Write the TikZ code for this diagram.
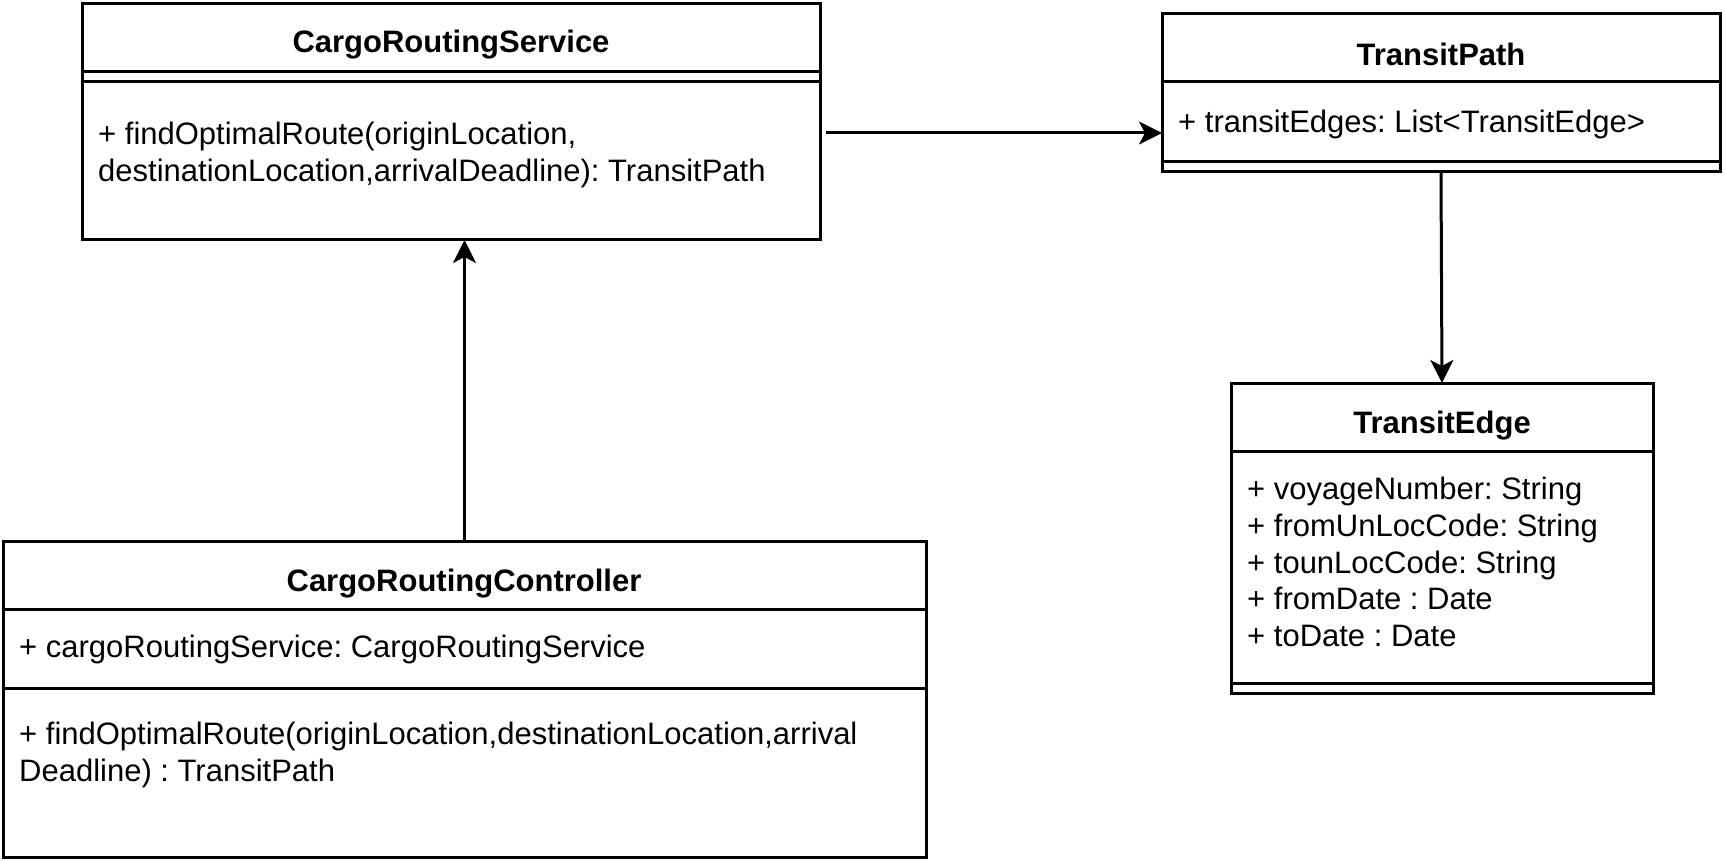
\documentclass[tikz,border=0pt]{standalone}
\usepackage{fontspec}
\setmainfont{Liberation Sans}
\usetikzlibrary{arrows.meta}
\begin{document}
\frenchspacing
\begin{tikzpicture}[x=1pt,y=1pt,
  boxline/.style={line width=3pt, draw=black},
  umlbox/.style={boxline, rectangle, inner sep=0pt, outer sep=0pt, anchor=north west},
  title/.style={anchor=base, inner sep=0pt, font=\fontsize{31}{37}\selectfont\bfseries},
  member/.style={anchor=base west, inner sep=0pt, font=\fontsize{31}{37}\selectfont},
  conn/.style={line width=3pt, -{Stealth[length=23pt,width=23pt,inset=6pt]}}
]
\useasboundingbox (0,0) rectangle (1725,-861);

% CargoRoutingService
\node[umlbox, minimum width=738pt, minimum height=236pt] (svc) at (82,-4) {};
\node[title] (svct) at (451,-53) {CargoRoutingService};
\draw[boxline] (svc.west |- 0,-72) -- (svc.east |- 0,-72);
\draw[boxline] (svc.west |- 0,-82) -- (svc.east |- 0,-82);
\node[member] (svcm1) at (98,-145) {+ findOptimalRoute(originLocation,};
\node[member] (svcm2) at (98,-182) {destinationLocation,arrivalDeadline): TransitPath};

% TransitPath
\node[umlbox, minimum width=558pt, minimum height=158pt] (tp) at (1162,-14) {};
\node[title] (tpt) at (1441,-66) {TransitPath};
\draw[boxline] (tp.west |- 0,-82) -- (tp.east |- 0,-82);
\node[member] (tpa1) at (1178,-133) {+ transitEdges: List<TransitEdge>};
\draw[boxline] (tp.west |- 0,-162) -- (tp.east |- 0,-162);

% TransitEdge
\node[umlbox, minimum width=422pt, minimum height=310pt] (te) at (1231,-383) {};
\node[title] (tet) at (1442,-433) {TransitEdge};
\draw[boxline] (te.west |- 0,-451) -- (te.east |- 0,-451);
\node[member] (tea1) at (1247,-499) {+ voyageNumber: String};
\node[member] (tea2) at (1247,-536) {+ fromUnLocCode: String};
\node[member] (tea3) at (1247,-573) {+ tounLocCode: String};
\node[member] (tea4) at (1247,-609) {+ fromDate : Date};
\node[member] (tea5) at (1247,-646) {+ toDate : Date};
\draw[boxline] (te.west |- 0,-683) -- (te.east |- 0,-683);

% CargoRoutingController
\node[umlbox, minimum width=923pt, minimum height=316pt] (ctl) at (3,-541) {};
\node[title] (ctlt) at (464,-591) {CargoRoutingController};
\draw[boxline] (ctl.west |- 0,-609) -- (ctl.east |- 0,-609);
\node[member] (ctla1) at (19,-657) {+ cargoRoutingService: CargoRoutingService};
\draw[boxline] (ctl.west |- 0,-688) -- (ctl.east |- 0,-688);
\node[member] (ctlm1) at (19,-744) {+ findOptimalRoute(originLocation,destinationLocation,arrival};
\node[member] (ctlm2) at (19,-781) {Deadline) : TransitPath};

% connectors
\coordinate (a1) at (826,-133);
\draw[conn] (a1) -- (tp.west |- a1);
\draw[conn] (tp.south) -- (te.north);
\draw[conn] (ctl.north) -- (ctl.north |- svc.south);
\end{tikzpicture}
\end{document}
